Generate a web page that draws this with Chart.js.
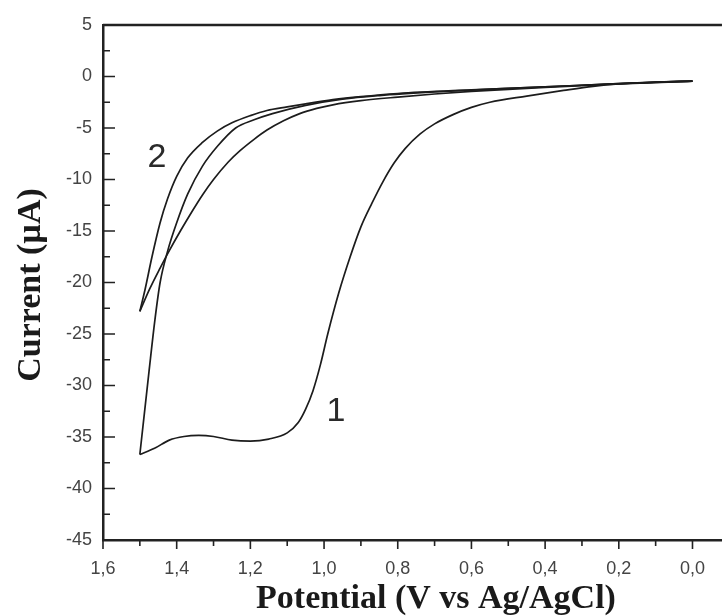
<!DOCTYPE html>
<html><head><meta charset="utf-8">
<script src="https://cdn.jsdelivr.net/npm/chart.js@4/dist/chart.umd.min.js"></script>
<style>html,body{margin:0;padding:0;background:#fff;}#wrap{width:723px;height:616px;}</style>
</head><body><div id="wrap"><canvas id="c" width="723" height="616"></canvas></div>
<script>
// ---- data ----
const potentialTicks = [1.6, 1.4, 1.2, 1.0, 0.8, 0.6, 0.4, 0.2, 0.0];
const potentialMinorTicks = [1.5, 1.3, 1.1, 0.9, 0.7, 0.5, 0.3, 0.1];
const currentTicks = [5, 0, -5, -10, -15, -20, -25, -30, -35, -40, -45];
const currentMinorTicks = [2.5, -2.5, -7.5, -12.5, -17.5, -22.5, -27.5, -32.5, -37.5, -42.5];

// scan 1, forward (0 -> 1.5 V)
const scan1FwdPotential = [0.00, 0.10, 0.20, 0.27, 0.35, 0.45, 0.55, 0.60, 0.65, 0.70, 0.74, 0.78, 0.81, 0.84, 0.87, 0.90, 0.93, 0.96, 0.99, 1.01, 1.03, 1.05, 1.07, 1.10, 1.15, 1.20, 1.25, 1.30, 1.34, 1.38, 1.42, 1.46, 1.50];
const scan1FwdCurrent   = [-0.45, -0.55, -0.72, -0.95, -1.35, -1.9, -2.5, -3.0, -3.7, -4.6, -5.6, -7.0, -8.4, -10.2, -12.3, -14.6, -17.6, -21.0, -25.0, -28.0, -30.5, -32.3, -33.6, -34.6, -35.2, -35.4, -35.3, -34.95, -34.85, -34.95, -35.3, -36.1, -36.7];
// scan 1, reverse (1.5 -> 0 V)
const scan1RevPotential = [1.50, 1.475, 1.459, 1.445, 1.425, 1.40, 1.37, 1.33, 1.29, 1.24, 1.19, 1.14, 1.05, 0.95, 0.85, 0.70, 0.50, 0.30, 0.10, 0.00];
const scan1RevCurrent   = [-36.7, -28.6, -23.6, -20.0, -17.0, -14.2, -11.4, -8.7, -6.8, -5.0, -4.2, -3.6, -2.8, -2.2, -1.85, -1.5, -1.15, -0.85, -0.55, -0.45];
// scan 2, forward (0 -> 1.5 V)
const scan2FwdPotential = [0.00, 0.20, 0.40, 0.60, 0.70, 0.80, 0.90, 0.976, 1.02, 1.066, 1.11, 1.155, 1.19, 1.228, 1.26, 1.30, 1.33, 1.36, 1.39, 1.42, 1.445, 1.473, 1.50];
const scan2FwdCurrent   = [-0.45, -0.72, -1.05, -1.45, -1.7, -2.0, -2.35, -2.75, -3.1, -3.6, -4.3, -5.2, -6.1, -7.2, -8.3, -10.0, -11.5, -13.2, -15.0, -16.9, -18.6, -20.6, -22.8];
// scan 2, reverse (1.5 -> 0 V)
const scan2RevPotential = [1.50, 1.486, 1.467, 1.445, 1.425, 1.40, 1.37, 1.33, 1.29, 1.25, 1.20, 1.155, 1.10, 1.05, 0.976, 0.90, 0.80, 0.60, 0.40, 0.20, 0.00];
const scan2RevCurrent   = [-22.8, -20.7, -17.5, -14.2, -11.9, -9.7, -7.9, -6.4, -5.3, -4.5, -3.8, -3.3, -2.95, -2.65, -2.25, -1.95, -1.65, -1.3, -1.0, -0.7, -0.45];

const annotationText = ['1', '2'];
const annotationPotential = [0.968, 1.4536];
const annotationCurrent = [-32.5, -7.9];

const xTitle = 'Potential (V vs Ag/AgCl)';
const yTitle = 'Current (\u00B5A)';

function pts(xs, ys) { return xs.map((x, i) => ({ x: x, y: ys[i] })); }

const lineStyle = { showLine: true, borderColor: '#1c1c1c', borderWidth: 1.7, pointRadius: 0, fill: false, cubicInterpolationMode: 'monotone' };

const framePlugin = {
  id: 'frame',
  afterDraw(chart) {
    const ctx = chart.ctx, a = chart.chartArea;
    const xs = chart.scales.x, ys = chart.scales.y;
    ctx.save();
    ctx.strokeStyle = '#222';
    ctx.lineWidth = 2.5;
    ctx.beginPath(); ctx.moveTo(a.left, a.top); ctx.lineTo(a.right, a.top); ctx.stroke();
    ctx.lineWidth = 1.6;
    ctx.beginPath();
    currentTicks.forEach(v => { const y = ys.getPixelForValue(v); ctx.moveTo(a.left, y); ctx.lineTo(a.left + 12, y); });
    currentMinorTicks.forEach(v => { const y = ys.getPixelForValue(v); ctx.moveTo(a.left, y); ctx.lineTo(a.left + 7, y); });
    potentialTicks.forEach(v => { const x = xs.getPixelForValue(v); ctx.moveTo(x, a.bottom); ctx.lineTo(x, a.bottom + 9); });
    potentialMinorTicks.forEach(v => { const x = xs.getPixelForValue(v); ctx.moveTo(x, a.bottom); ctx.lineTo(x, a.bottom + 6); });
    ctx.stroke();
    ctx.fillStyle = '#2a2a2a';
    ctx.font = '34px "Liberation Sans", Arial, sans-serif';
    ctx.textAlign = 'center'; ctx.textBaseline = 'middle';
    annotationText.forEach((t, i) => ctx.fillText(t, xs.getPixelForValue(annotationPotential[i]), ys.getPixelForValue(annotationCurrent[i])));
    ctx.fillStyle = '#1a1a1a';
    ctx.font = 'bold 34px "Liberation Serif", "Times New Roman", serif';
    ctx.textBaseline = 'alphabetic';
    ctx.fillText(xTitle, 436, 608);
    ctx.save();
    ctx.translate(40, 285); ctx.rotate(-Math.PI / 2);
    ctx.fillText(yTitle, 0, 0);
    ctx.restore();
    ctx.restore();
  }
};

new Chart(document.getElementById('c'), {
  type: 'scatter',
  data: { datasets: [
    Object.assign({ data: pts(scan1FwdPotential, scan1FwdCurrent) }, lineStyle),
    Object.assign({ data: pts(scan1RevPotential, scan1RevCurrent) }, lineStyle),
    Object.assign({ data: pts(scan2FwdPotential, scan2FwdCurrent) }, lineStyle),
    Object.assign({ data: pts(scan2RevPotential, scan2RevCurrent) }, lineStyle)
  ] },
  options: {
    responsive: false, animation: false, devicePixelRatio: 1,
    layout: { padding: { top: 25, right: 0, bottom: 0, left: 0 } },
    plugins: { legend: { display: false }, tooltip: { enabled: false } },
    scales: {
      x: {
        type: 'linear', reverse: true, min: -0.08, max: 1.6,
        afterBuildTicks: s => { s.ticks = potentialTicks.map(v => ({ value: v })); },
        afterFit: s => { s.height = 76; },
        grid: { display: false, drawTicks: false },
        border: { display: true, color: '#222', width: 2.5 },
        ticks: { padding: 18, color: '#444', font: { family: 'Liberation Sans', size: 18 }, maxRotation: 0,
                 callback: v => Number(v).toFixed(1).replace('.', ',') }
      },
      y: {
        type: 'linear', min: -45, max: 5,
        afterBuildTicks: s => { s.ticks = currentTicks.map(v => ({ value: v })); },
        afterFit: s => { s.width = 103; },
        grid: { display: false, drawTicks: false },
        border: { display: true, color: '#222', width: 2.5 },
        ticks: { padding: 11, color: '#444', font: { family: 'Liberation Sans', size: 18 },
                 callback: v => String(v) }
      }
    }
  },
  plugins: [framePlugin]
});
</script></body></html>
